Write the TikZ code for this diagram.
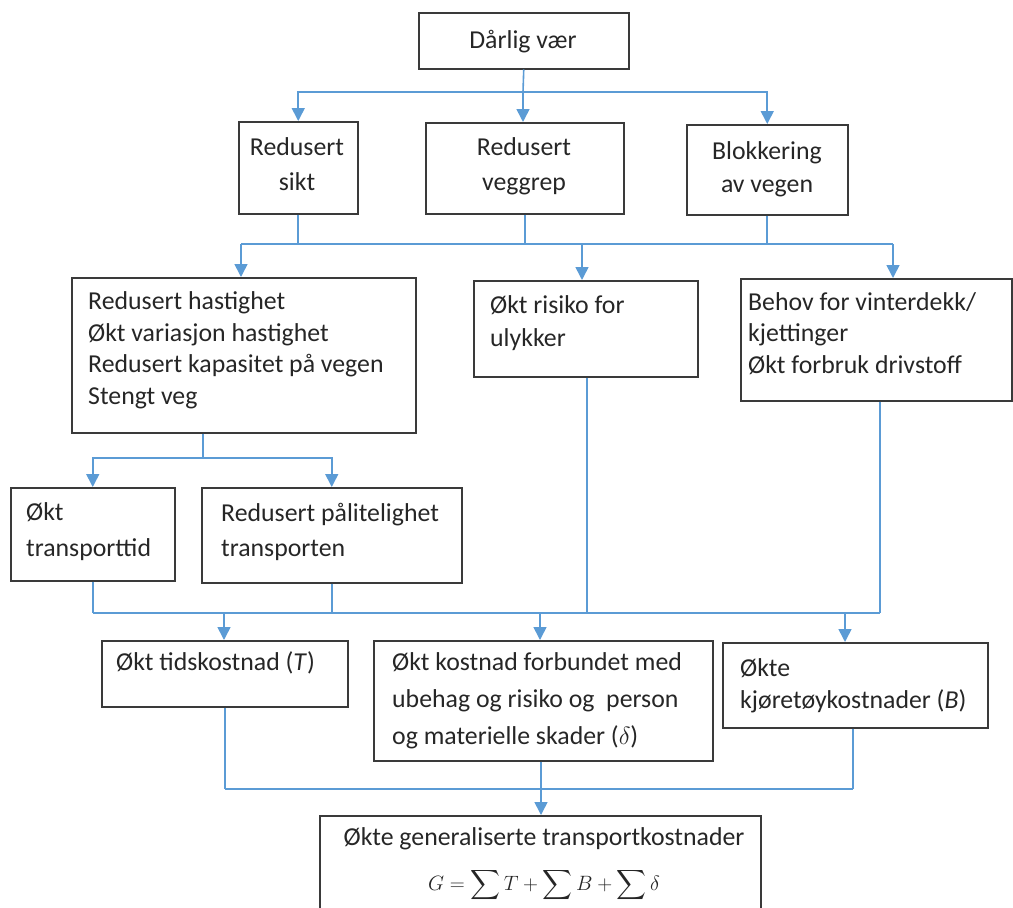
\documentclass[tikz,border=0pt]{standalone}
\usepackage{amsmath}
\usepackage{fontspec}
\setmainfont{Carlito}
\usetikzlibrary{arrows.meta,calc}
\definecolor{conn}{HTML}{5B9BD5}
\definecolor{frame}{HTML}{3A3A3A}
\tikzset{
  box/.style={draw=frame, line width=1.5pt, rectangle, inner sep=0pt, anchor=north west},
  txt/.style={inner sep=0pt, align=left, anchor=base west, text=black!85, font=\fontsize{25.8}{31.5}\selectfont},
  ctxt/.style={inner sep=0pt, align=center, anchor=base, text=black!85, font=\fontsize{25.8}{35}\selectfont},
  link/.style={draw=conn, line width=1.6pt},
  arr/.style={link, -{Triangle[length=13pt,width=13pt]}},
}
\begin{document}
\begin{tikzpicture}[x=1pt,y=-1pt]
\useasboundingbox (0,0) rectangle (1013,908);
\clip (0,0) rectangle (1013,908);
% boxes
\node[box, minimum width=210pt, minimum height=56pt] (top) at (418,12) {};
\node[box, minimum width=119pt, minimum height=92pt] (sikt) at (238,121) {};
\node[box, minimum width=198pt, minimum height=91pt] (vegg) at (425,122) {};
\node[box, minimum width=161pt, minimum height=90pt] (blok) at (686,124) {};
\node[box, minimum width=344pt, minimum height=155pt] (A) at (71,277) {};
\node[box, minimum width=224pt, minimum height=96pt] (ris) at (473,280) {};
\node[box, minimum width=271pt, minimum height=122pt] (beh) at (740,278) {};
\node[box, minimum width=164pt, minimum height=93pt] (tid) at (10,487) {};
\node[box, minimum width=260pt, minimum height=95pt] (pal) at (201,487) {};
\node[box, minimum width=246pt, minimum height=66pt] (tk) at (101,640) {};
\node[box, minimum width=339pt, minimum height=120pt] (kost) at (373,640) {};
\node[box, minimum width=265pt, minimum height=85pt] (kjor) at (722,642) {};
\node[box, minimum width=441pt, minimum height=130pt] (gen) at (319,815) {};
% texts (base anchor = baseline of the last line)
\node[ctxt] (topT) at (523,48) {Dårlig vær};
\node[ctxt] (siktT) at (297,190) {Redusert\\sikt};
\node[ctxt] (veggT) at (524,190) {Redusert\\veggrep};
\node[ctxt, font=\fontsize{25.8}{33}\selectfont] (blokT) at (767,192) {Blokkering\\av vegen};
\node[txt] (AT) at (88,404) {Redusert hastighet\\Økt variasjon hastighet\\Redusert kapasitet på vegen\\Stengt veg};
\node[txt, font=\fontsize{25.8}{33}\selectfont] (risT) at (490,346) {Økt risiko for\\ulykker};
\node[txt] (behT) at (748,373) {Behov for vinterdekk/\\kjettinger\\Økt forbruk drivstoff};
\node[txt, font=\fontsize{25.8}{36}\selectfont] (tidT) at (26,556) {Økt\\transporttid};
\node[txt, font=\fontsize{25.8}{35}\selectfont] (palT) at (221,556) {Redusert pålitelighet\\transporten};
\node[txt] (tkT) at (116,670) {Økt tidskostnad (\textit{T})};
\node[txt, font=\fontsize{25.8}{37}\selectfont] (kostT) at (392,744) {Økt kostnad forbundet med\\ubehag og risiko og~ person\\og materielle skader ($\delta$)};
\node[txt, font=\fontsize{25.8}{32}\selectfont] (kjorT) at (740,708) {Økte\\kjøretøykostnader (\textit{B})};
\node[ctxt] (genT) at (544,845) {Økte generaliserte transportkostnader};
\node[inner sep=0pt, anchor=base, text=black!85, font=\fontsize{20}{24}\selectfont] (genF) at (544,890) {$\displaystyle G=\sum T+\sum B+\sum \delta$};
% junction coordinates
\coordinate (j1) at (523,92);
\coordinate (j2l) at (241,244);
\coordinate (j2m) at (582,244);
\coordinate (j2r) at (893,244);
\coordinate (j3) at (203,458);
\coordinate (j4l) at (93,613);
\coordinate (j4a) at (224,613);
\coordinate (j4b) at (540,613);
\coordinate (j4c) at (845,613);
\coordinate (j4r) at (880,613);
\coordinate (j5) at (541,789);
% connectors level 1
\draw[link] (top.south) -- (j1);
\draw[arr] (j1) -| (sikt.north);
\draw[arr] (j1) -| (blok.north);
\draw[arr] (j1) -- (j1 |- vegg.north);
% level 2
\draw[link] (sikt.south) -- (sikt.south |- j2l);
\draw[link] (vegg.south) -- (vegg.south |- j2l);
\draw[link] (blok.south) -- (blok.south |- j2l);
\draw[link] (j2l) -- (j2r);
\draw[arr] (j2l) -- (j2l |- A.north);
\draw[arr] (j2m) -- (j2m |- ris.north);
\draw[arr] (j2r) -- (j2r |- beh.north);
% level 3
\draw[link] (A.south -| j3) -- (j3);
\draw[arr] (j3) -| (tid.north);
\draw[arr] (j3) -| (pal.north);
% level 4
\draw[link] (tid.south) -- (tid.south |- j4l);
\draw[link] (pal.south) -- (pal.south |- j4l);
\draw[link] (ris.south -| 587,0) -- (587,613);
\draw[link] (beh.south -| j4r) -- (j4r);
\draw[link] (j4l) -- (j4r);
\draw[arr] (j4a) -- (j4a |- tk.north);
\draw[arr] (j4b) -- (j4b |- kost.north);
\draw[arr] (j4c) -- (j4c |- kjor.north);
% level 5
\draw[link] (tk.south) -- (tk.south |- j5);
\draw[link] (kost.south -| j5) -- (j5);
\draw[link] (kjor.south -| 853,0) -- (853,789);
\draw[link] (tk.south |- j5) -- (853,789);
\draw[arr] (j5) -- (j5 |- gen.north);
\end{tikzpicture}
\end{document}
